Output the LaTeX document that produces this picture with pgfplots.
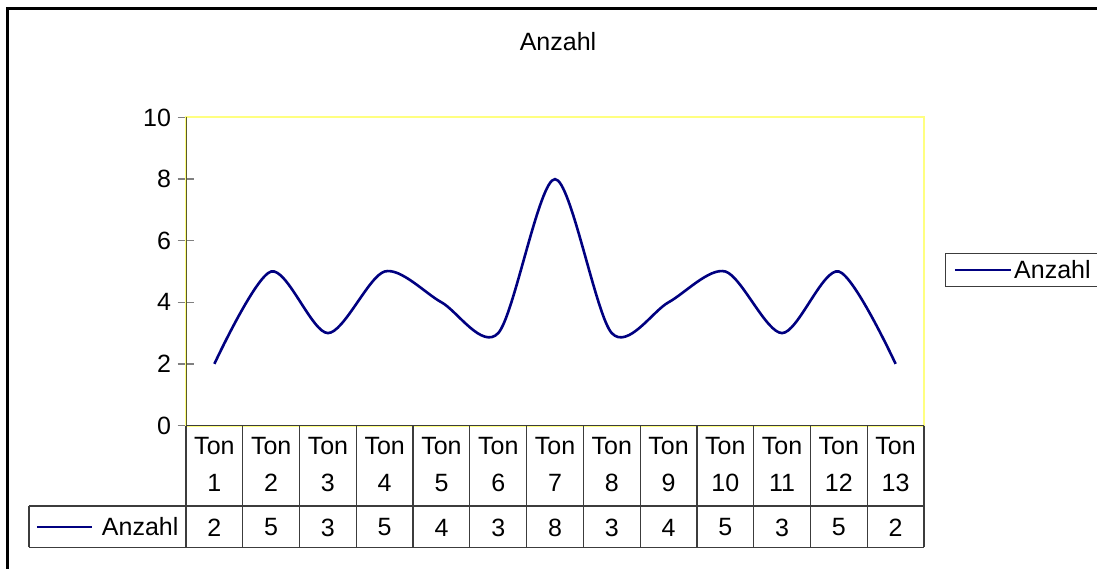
\documentclass[border=0pt]{standalone}
\usepackage{pgfplots}
\pgfplotsset{compat=1.18}
\usepackage{pgfplotstable}
\usepackage{fontspec}
\setmainfont{Liberation Sans}
\definecolor{navyline}{RGB}{0,0,128}
\definecolor{plotyellow}{RGB}{255,255,128}
\definecolor{gridgray}{RGB}{60,60,60}
\definecolor{axisolive}{RGB}{90,90,40}
\pgfplotstableread{
x y
0 2
1 5
2 3
3 5
4 4
5 3
6 8
7 3
8 4
9 5
10 3
11 5
12 2
}\data
\newcommand{\fs}{\fontsize{25}{37}\selectfont}
\begin{document}
\begin{tikzpicture}[x=1pt,y=1pt]
\useasboundingbox (0pt,0pt) rectangle (1097pt,568pt);
\draw[line width=3pt] (7pt,-30pt) rectangle (1130pt,559.5pt);
\node[font=\fontsize{25}{30}\selectfont] at (558pt,526pt) {Anzahl};
\begin{axis}[
  at={(186pt,142.5pt)}, anchor=south west,
  scale only axis, width=738pt, height=308pt,
  /pgf/number format/assume math mode=true,
  xmin=-0.5, xmax=12.5, ymin=0, ymax=10,
  ytick={0,2,...,10}, ytick pos=left,
  xtick={0,...,12},
  xticklabels={Ton\\1,Ton\\2,Ton\\3,Ton\\4,Ton\\5,Ton\\6,Ton\\7,Ton\\8,Ton\\9,Ton\\10,Ton\\11,Ton\\12,Ton\\13},
  xticklabel style={align=center, font=\fs, anchor=north, yshift=-8pt},
  x tick style={draw=none},
  y tick style={gray, line width=1.4pt},
  ytick align=center, major tick length=17pt,
  yticklabel style={font=\fs, xshift=-3pt},
  axis line style={draw=none},
  clip=false,
  legend style={at={(1.0285,0.505)}, anchor=west, draw=gridgray, line width=1.2pt, font=\fontsize{25}{30}\selectfont, inner xsep=8pt, inner ysep=5pt},
  legend image code/.code={\draw[#1] (0pt,0pt) -- (56pt,0pt);},
]
\draw[plotyellow, line width=2pt] (axis cs:-0.5,0) rectangle (axis cs:12.5,10);
\draw[axisolive, line width=1pt] (axis cs:-0.5,0) -- (axis cs:-0.5,10);
\addplot[navyline, line width=2.6pt, smooth] table[x=x,y=y] {\data};
\addlegendentry{Anzahl}
\addplot[draw=none, forget plot, nodes near coords, point meta=explicit,
  every node near coord/.append style={font=\fs, anchor=center}]
  table[x=x, y expr=-3.31, meta=y] {\data};
% data table grid
\draw[gridgray, line width=1.3pt] (axis cs:-0.5,0) -- (axis cs:12.5,0);
\draw[gridgray, line width=1.3pt] (axis cs:-3.266,-2.614) -- (axis cs:12.5,-2.614);
\draw[gridgray, line width=1.3pt] (axis cs:-3.266,-3.96) -- (axis cs:12.5,-3.96);
\draw[gridgray, line width=1.3pt] (axis cs:-3.266,-2.614) -- (axis cs:-3.266,-3.96);
\pgfplotsinvokeforeach{-0.5,0.5,1.5,2.5,3.5,4.5,5.5,6.5,7.5,8.5,9.5,10.5,11.5,12.5}{
  \draw[gridgray, line width=1.3pt] (axis cs:#1,0) -- (axis cs:#1,-3.96);
}
\draw[navyline, line width=2.4pt] (axis cs:-3.125,-3.29) -- (axis cs:-2.156,-3.29);
\node[font=\fs, anchor=east, inner sep=0pt] at (axis cs:-0.63,-3.29) {Anzahl};
\end{axis}
\end{tikzpicture}
\end{document}
